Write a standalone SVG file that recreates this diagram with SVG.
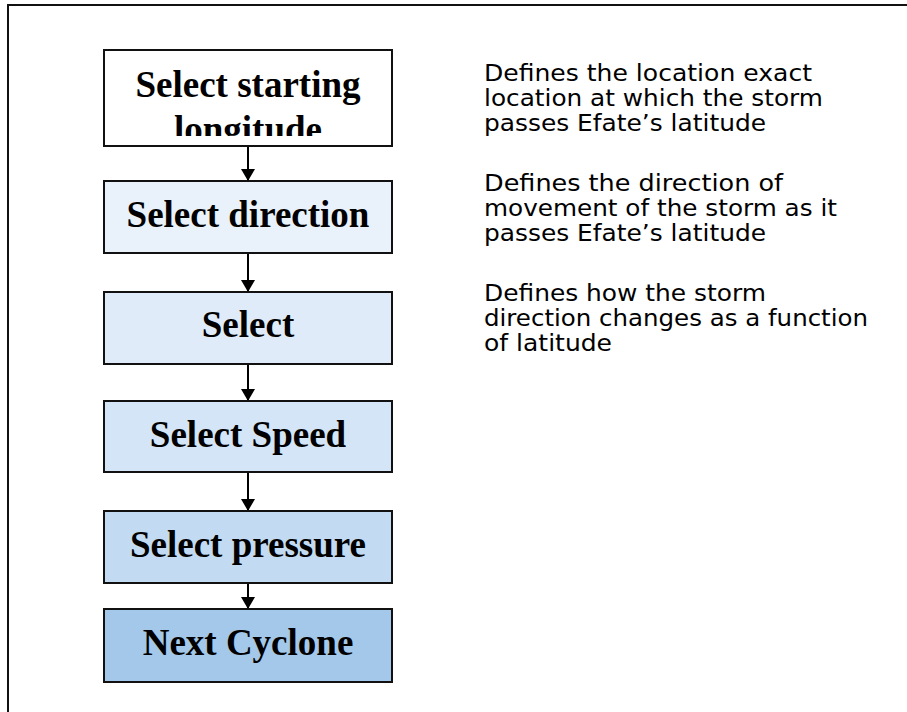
<svg xmlns="http://www.w3.org/2000/svg" width="907" height="712" viewBox="0 0 907 712">
<style>
.box{stroke:#111;stroke-width:2}
.lbl{font-family:"Liberation Serif","Times New Roman",serif;font-weight:bold;font-size:37px;fill:#000;text-anchor:middle}
.note{font-family:"DejaVu Sans",sans-serif;font-size:23px;fill:#000}
.conn{stroke:#000;stroke-width:2;fill:none}
</style>
<defs>
<marker id="ah" markerWidth="12" markerHeight="14" refX="12" refY="7" orient="auto" markerUnits="userSpaceOnUse" viewBox="0 0 12 14">
<path d="M0,0 L12,7 L0,14 Z" fill="#000"/>
</marker>
<clipPath id="c1"><rect x="104" y="50" width="288" height="86"/></clipPath>
</defs>
<rect width="907" height="712" fill="#fff"/>
<path d="M8,712 V5 H907" fill="none" stroke="#111" stroke-width="2"/>
<g id="connectors">
<line class="conn" x1="248" y1="146" x2="248" y2="181" marker-end="url(#ah)"/>
<line class="conn" x1="248" y1="253" x2="248" y2="292" marker-end="url(#ah)"/>
<line class="conn" x1="248" y1="364" x2="248" y2="401" marker-end="url(#ah)"/>
<line class="conn" x1="248" y1="472" x2="248" y2="511" marker-end="url(#ah)"/>
<line class="conn" x1="248" y1="583" x2="248" y2="609" marker-end="url(#ah)"/>
</g>
<g id="n1">
<rect class="box" x="104" y="50" width="288" height="96" fill="#fff"/>
<g clip-path="url(#c1)">
<text class="lbl" x="248" y="97">Select starting</text>
<text class="lbl" x="248" y="142">longitude</text>
</g>
</g>
<g id="n2">
<rect class="box" x="104" y="181" width="288" height="72" fill="#E9F1FB"/>
<text class="lbl" x="248" y="227">Select direction</text>
</g>
<g id="n3">
<rect class="box" x="104" y="292" width="288" height="72" fill="#DFEBF8"/>
<text class="lbl" x="248" y="337">Select</text>
</g>
<g id="n4">
<rect class="box" x="104" y="401" width="288" height="71" fill="#D3E5F6"/>
<text class="lbl" x="248" y="447">Select Speed</text>
</g>
<g id="n5">
<rect class="box" x="104" y="511" width="288" height="72" fill="#C2DBF2"/>
<text class="lbl" x="248" y="557">Select pressure</text>
</g>
<g id="n6">
<rect class="box" x="104" y="609" width="288" height="73" fill="#A3C8EA"/>
<text class="lbl" x="248" y="655">Next Cyclone</text>
</g>
<g id="notes">
<text class="note" x="484" y="81" textLength="328" lengthAdjust="spacingAndGlyphs">Defines the location exact</text>
<text class="note" x="484" y="106" textLength="339" lengthAdjust="spacingAndGlyphs">location at which the storm</text>
<text class="note" x="484" y="131" textLength="282" lengthAdjust="spacingAndGlyphs">passes Efate’s latitude</text>
<text class="note" x="484" y="191" textLength="299" lengthAdjust="spacingAndGlyphs">Defines the direction of</text>
<text class="note" x="484" y="216" textLength="353" lengthAdjust="spacingAndGlyphs">movement of the storm as it</text>
<text class="note" x="484" y="241" textLength="282" lengthAdjust="spacingAndGlyphs">passes Efate’s latitude</text>
<text class="note" x="484" y="301" textLength="282" lengthAdjust="spacingAndGlyphs">Defines how the storm</text>
<text class="note" x="484" y="326" textLength="384" lengthAdjust="spacingAndGlyphs">direction changes as a function</text>
<text class="note" x="484" y="351" textLength="128" lengthAdjust="spacingAndGlyphs">of latitude</text>
</g>
</svg>
